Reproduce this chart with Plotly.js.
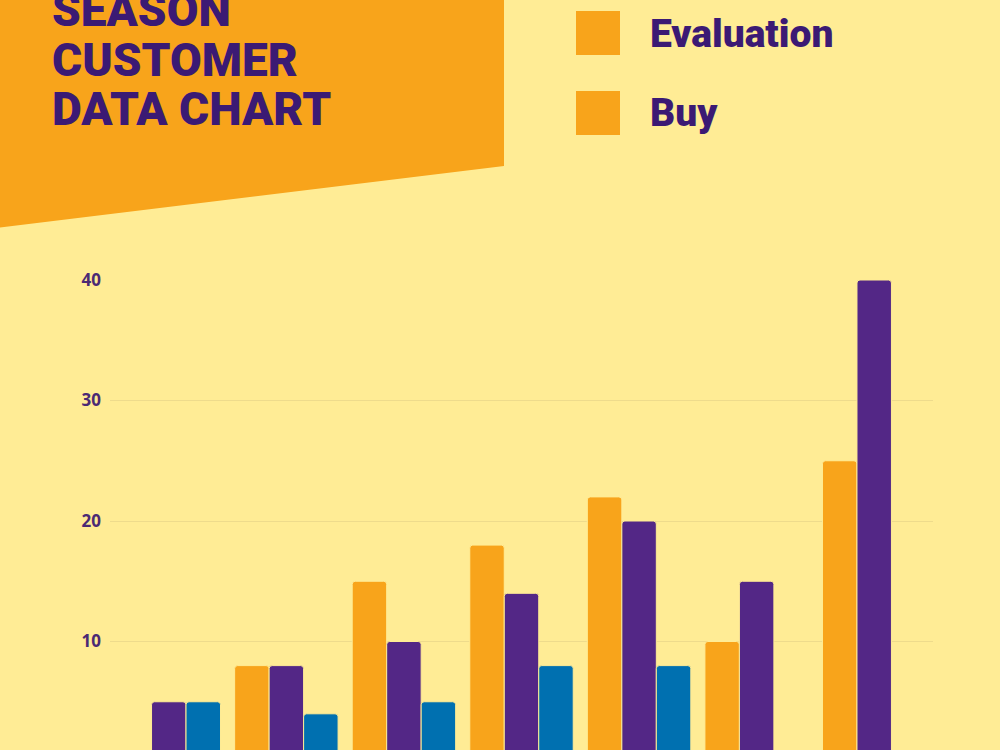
<!DOCTYPE html>
<html><head><meta charset="utf-8">
<script src="https://cdn.plot.ly/plotly-3.0.1.min.js"></script>
<style>html,body{margin:0;padding:0;overflow:hidden;background:#FFEC95}</style>
</head><body><div id="chart" style="width:1000px;height:800px"></div>
<script>
// ---- data ----
const categories = ["Week 1","Week 2","Week 3","Week 4","Week 5","Week 6","Week 7"];
const evaluationValues = [null, 8, 15, 18, 22, 10, 25];
const buyValues = [5, 8, 10, 14, 20, 15, 40];
const thirdValues = [5, 4, 5, 8, 8, null, null];
const seriesNames = ["Evaluation", "Buy", "Series 3"];
const yTickValues = [10, 20, 30, 40];
const titleLines = ["SEASON", "CUSTOMER", "DATA CHART"];
const legendLabels = ["Evaluation", "Buy"];

// ---- styling / layout helpers ----
const BG = "#FFEC95", ORANGE = "#F8A41B", PURPLE = "#532786", BLUE = "#0070B0", INK = "#3B1A74";
const L = 110, R = 933, T = 280, B = 762, H = 800;
const W = R - L, PH = B - T;
const xp = px => (px - L) / W;
const yp = py => (B - py) / PH;

const barStyle = c => ({color: c, cornerradius: 3, line: {color: BG, width: 1}});
const traces = [
  {type: "bar", name: seriesNames[0], x: categories, y: evaluationValues, marker: barStyle(ORANGE)},
  {type: "bar", name: seriesNames[1], x: categories, y: buyValues, marker: barStyle(PURPLE)},
  {type: "bar", name: seriesNames[2], x: categories, y: thirdValues, marker: barStyle(BLUE)}
];

const shapes = [
  {type: "path", xref: "paper", yref: "paper", layer: "below", line: {width: 0}, fillcolor: ORANGE,
   path: `M ${xp(-5)},${yp(-5)} L ${xp(504)},${yp(-5)} L ${xp(504)},${yp(166)} L ${xp(-5)},${yp(228)} Z`},
  {type: "rect", xref: "paper", yref: "paper", line: {width: 0}, fillcolor: ORANGE,
   x0: xp(576), x1: xp(620), y0: yp(11), y1: yp(55)},
  {type: "rect", xref: "paper", yref: "paper", line: {width: 0}, fillcolor: ORANGE,
   x0: xp(576), x1: xp(620), y0: yp(91), y1: yp(135)}
];

const titleCenters = [10, 60, 109];
const annotations = titleLines.map((t, i) => ({
  text: t, xref: "paper", yref: "paper", x: xp(50), y: yp(titleCenters[i]),
  xanchor: "left", yanchor: "middle", showarrow: false,
  font: {family: "Roboto", weight: 900, size: 46, color: INK}
}));
const legendCenters = [34, 113];
legendLabels.forEach((t, i) => annotations.push({
  text: t, xref: "paper", yref: "paper", x: xp(648), y: yp(legendCenters[i]),
  xanchor: "left", yanchor: "middle", showarrow: false,
  font: {family: "Roboto", weight: 900, size: 39, color: INK}
}));

const layout = {
  width: 1000, height: H,
  margin: {l: L, r: 1000 - R, t: T, b: H - B, pad: 0},
  paper_bgcolor: BG, plot_bgcolor: BG,
  showlegend: false,
  barmode: "group", bargap: 0.12, bargroupgap: 0,
  xaxis: {showticklabels: false, showgrid: false, zeroline: false, showline: false, ticks: ""},
  yaxis: {range: [0, 40], tickmode: "array", tickvals: yTickValues, showgrid: true, gridcolor: "#EEDB8C", gridwidth: 1,
          zeroline: false, showline: false, ticks: "", ticklabelstandoff: 8,
          tickfont: {family: "Open Sans", weight: 700, size: 17, color: "#4B2A74"}},
  shapes: shapes,
  annotations: annotations
};

Plotly.newPlot("chart", traces, layout, {displayModeBar: false, staticPlot: true});
</script></body></html>
